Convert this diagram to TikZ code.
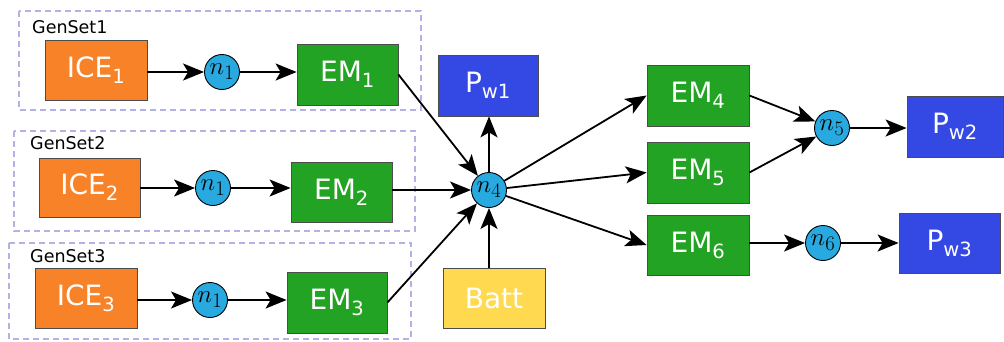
\documentclass[tikz,border=0pt]{standalone}
\usepackage{amsmath}
\usepackage{fontspec}
\setmainfont{DejaVu Sans}
\usetikzlibrary{arrows.meta}
\definecolor{iceC}{RGB}{247,130,40}
\definecolor{emC}{RGB}{35,163,35}
\definecolor{pwC}{RGB}{52,72,228}
\definecolor{battC}{RGB}{255,217,80}
\definecolor{juncC}{RGB}{40,170,224}
\definecolor{grpC}{RGB}{178,178,228}
\begin{document}
\begin{tikzpicture}[x=1pt,y=-1pt,
  box/.style={draw=black!70, line width=0.8pt, minimum width=101pt, minimum height=61pt, inner sep=0pt, text=white, font=\fontsize{28}{28}\selectfont},
  ice/.style={box, fill=iceC},
  em/.style={box, fill=emC},
  pw/.style={box, fill=pwC},
  batt/.style={box, fill=battC},
  junc/.style={circle, draw=black, line width=0.9pt, fill=juncC, minimum size=35pt, inner sep=0pt, font=\fontsize{29}{29}\selectfont},
  grp/.style={draw=grpC, dash pattern=on 6pt off 4pt, line width=1.1pt},
  lbl/.style={anchor=base west, inner sep=0pt, font=\fontsize{17.5}{17.5}\selectfont},
  arr/.style={line width=1.8pt, -{Stealth[length=21pt,width=17pt,inset=5pt]}}]
\useasboundingbox (0,0) rectangle (1004,341);
\fill[white] (0,0) rectangle (1004,341);
% groups
\draw[grp] (19,11) rectangle (421,110);
\draw[grp] (14,131) rectangle (415,231);
\draw[grp] (9,243) rectangle (411,339);
\node[lbl] (g1) at (32,33) {GenSet1};
\node[lbl] (g2) at (30,149) {GenSet2};
\node[lbl] (g3) at (30,262) {GenSet3};
% row 1
\node[ice, minimum width=102pt, minimum height=60pt] (ICE1) at (96,70) {ICE$_\text{1}$};
\node[junc] (n1a) at (222,72) {$n_1$};
\node[em] (EM1) at (347.5,74.5) {EM$_\text{1}$};
% row 2
\node[ice, minimum height=59pt] (ICE2) at (89.5,187.5) {ICE$_\text{2}$};
\node[junc] (n1b) at (213,188) {$n_1$};
\node[em, minimum height=60pt] (EM2) at (341.5,192) {EM$_\text{2}$};
% row 3
\node[ice, minimum width=102pt, minimum height=60pt] (ICE3) at (86,298) {ICE$_\text{3}$};
\node[junc] (n1c) at (210,300) {$n_1$};
\node[em, minimum width=100pt] (EM3) at (337,302.5) {EM$_\text{3}$};
% centre
\node[junc] (n4) at (489,190) {$n_4$};
\node[batt, minimum width=102pt, minimum height=60pt] (Batt) at (494,298) {Batt};
\node[pw, minimum width=100pt] (Pw1) at (488,85.5) {P$_\text{w1}$};
% right
\node[em, minimum width=102pt] (EM4) at (698,95.5) {EM$_\text{4}$};
\node[em, minimum width=102pt] (EM5) at (698,172.5) {EM$_\text{5}$};
\node[em, minimum width=102pt, minimum height=60pt] (EM6) at (698,245) {EM$_\text{6}$};
\node[junc] (n5) at (832,128) {$n_5$};
\node[junc] (n6) at (823,243) {$n_6$};
\node[pw, minimum width=96pt] (Pw2) at (955,126.5) {P$_\text{w2}$};
\node[pw, minimum width=101pt, minimum height=60pt] (Pw3) at (949.5,243) {P$_\text{w3}$};
% connectors
\draw[arr] (ICE1.east |- n1a) -- (n1a);
\draw[arr] (n1a) -- (n1a -| EM1.west);
\draw[arr] (ICE2.east |- n1b) -- (n1b);
\draw[arr] (n1b) -- (n1b -| EM2.west);
\draw[arr] (ICE3.east |- n1c) -- (n1c);
\draw[arr] (n1c) -- (n1c -| EM3.west);
\draw[arr] (EM1.east) -- (n4);
\draw[arr] (EM2.east |- n4) -- (n4);
\draw[arr] (EM3.east) -- (n4);
\draw[arr] (Batt.north -| n4) -- (n4);
\draw[arr] (n4) -- (n4 |- Pw1.south);
\draw[arr] (n4) -- (EM4.west);
\draw[arr] (n4) -- (EM5.west);
\draw[arr] (n4) -- (EM6.west);
\draw[arr] (EM4.east) -- (n5);
\draw[arr] (EM5.east) -- (n5);
\draw[arr] (n5) -- (n5 -| Pw2.west);
\draw[arr] (EM6.east |- n6) -- (n6);
\draw[arr] (n6) -- (n6 -| Pw3.west);
\end{tikzpicture}
\end{document}
